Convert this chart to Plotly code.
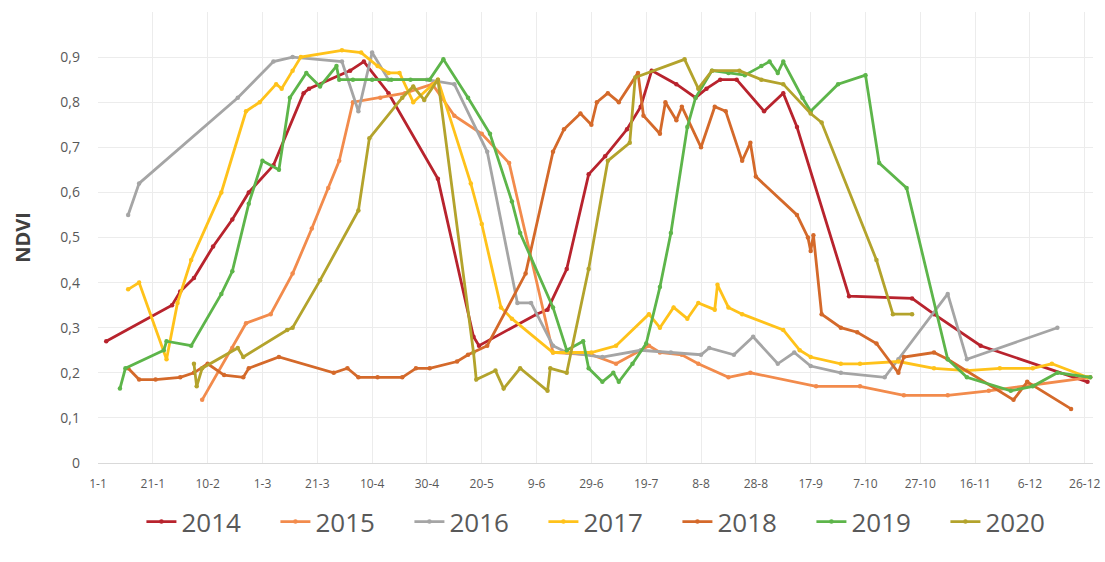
import plotly.graph_objects as go

# Day offsets from 1 January (leap-year calendar) and NDVI readings per year
days_2014 = [3, 27, 30, 35, 42, 49, 55, 64, 75, 77, 92, 97, 106, 124, 137, 139, 160, 164, 171, 179,
             185, 193, 198, 202, 211, 218, 222, 227, 233, 243, 250, 255, 274, 297, 305, 322, 361]
ndvi_2014 = [0.27, 0.35, 0.38, 0.41, 0.48, 0.54, 0.60, 0.66, 0.82, 0.83, 0.87, 0.89, 0.82, 0.63, 0.28,
             0.26, 0.33, 0.34, 0.43, 0.64, 0.68, 0.74, 0.79, 0.87, 0.84, 0.81, 0.83, 0.85, 0.85, 0.78,
             0.82, 0.745, 0.37, 0.365, 0.33, 0.26, 0.18]

days_2015 = [38, 49, 54, 63, 71, 78, 84, 88, 93, 103, 112, 122, 130, 140, 150, 166, 180, 189, 201,
             205, 213, 219, 230, 238, 262, 278, 294, 310, 325, 362]
ndvi_2015 = [0.14, 0.255, 0.31, 0.33, 0.42, 0.52, 0.61, 0.67, 0.80, 0.81, 0.82, 0.84, 0.77, 0.73,
             0.665, 0.245, 0.24, 0.22, 0.26, 0.245, 0.24, 0.22, 0.19, 0.20, 0.17, 0.17, 0.15, 0.15,
             0.16, 0.19]

days_2016 = [11, 15, 51, 64, 71, 89, 95, 100, 106, 120, 130, 142, 153, 158, 166, 171, 184, 198, 209,
             220, 223, 232, 239, 248, 254, 260, 271, 287, 292, 310, 317, 350]
ndvi_2016 = [0.55, 0.62, 0.81, 0.89, 0.90, 0.89, 0.78, 0.91, 0.85, 0.85, 0.84, 0.69, 0.355, 0.355,
             0.26, 0.245, 0.235, 0.25, 0.245, 0.24, 0.255, 0.24, 0.28, 0.22, 0.245, 0.215, 0.20,
             0.19, 0.23, 0.375, 0.23, 0.30]

days_2017 = [11, 15, 25, 29, 34, 45, 54, 59, 65, 67, 71, 74, 89, 96, 102, 106, 110, 115, 124, 136,
             140, 147, 151, 166, 180, 189, 201, 205, 210, 215, 219, 225, 226, 230, 235, 250, 256,
             260, 271, 278, 292, 305, 317, 329, 341, 348, 361]
ndvi_2017 = [0.385, 0.40, 0.23, 0.355, 0.45, 0.60, 0.78, 0.80, 0.84, 0.83, 0.87, 0.90, 0.915, 0.91,
             0.88, 0.865, 0.865, 0.80, 0.85, 0.62, 0.53, 0.345, 0.32, 0.245, 0.245, 0.26, 0.33,
             0.30, 0.345, 0.32, 0.355, 0.34, 0.395, 0.345, 0.33, 0.295, 0.25, 0.235, 0.22, 0.22,
             0.225, 0.21, 0.205, 0.21, 0.21, 0.22, 0.19]

days_2018 = [11, 15, 21, 30, 35, 40, 46, 53, 55, 66, 86, 91, 95, 102, 111, 116, 121, 131, 135, 142,
             156, 166, 170, 176, 180, 182, 186, 190, 197, 199, 205, 207, 211, 213, 220, 225, 229,
             235, 238, 240, 255, 259, 260, 261, 264, 271, 277, 284, 292, 294, 305, 310, 334, 339,
             355]
ndvi_2018 = [0.21, 0.185, 0.185, 0.19, 0.20, 0.22, 0.195, 0.19, 0.21, 0.235, 0.20, 0.21, 0.19, 0.19,
             0.19, 0.21, 0.21, 0.225, 0.24, 0.26, 0.42, 0.69, 0.74, 0.775, 0.75, 0.80, 0.82, 0.80,
             0.865, 0.77, 0.73, 0.80, 0.76, 0.79, 0.70, 0.79, 0.78, 0.67, 0.71, 0.635, 0.55, 0.50,
             0.47, 0.505, 0.33, 0.30, 0.29, 0.265, 0.20, 0.235, 0.245, 0.23, 0.14, 0.18, 0.12]

days_2019 = [8, 10, 24, 25, 34, 45, 49, 55, 60, 66, 70, 76, 81, 87, 88, 93, 100, 107, 114, 121, 126,
             135, 143, 151, 154, 166, 171, 177, 179, 184, 188, 190, 195, 200, 205, 209, 215, 218,
             224, 230, 236, 242, 245, 248, 250, 257, 260, 270, 280, 285, 295, 310, 317, 333, 341,
             350, 362]
ndvi_2019 = [0.165, 0.21, 0.25, 0.27, 0.26, 0.375, 0.425, 0.575, 0.67, 0.65, 0.81, 0.865, 0.835,
             0.88, 0.85, 0.85, 0.85, 0.85, 0.85, 0.85, 0.895, 0.81, 0.73, 0.58, 0.51, 0.345, 0.25,
             0.27, 0.21, 0.18, 0.20, 0.18, 0.22, 0.265, 0.39, 0.51, 0.745, 0.81, 0.87, 0.865, 0.86,
             0.88, 0.89, 0.865, 0.89, 0.81, 0.78, 0.84, 0.86, 0.665, 0.61, 0.23, 0.19, 0.16, 0.17,
             0.20, 0.19]

days_2020 = [35, 36, 38, 51, 53, 69, 71, 81, 95, 99, 111, 115, 119, 124, 137, 138, 145, 148, 154,
             164, 165, 171, 179, 186, 194, 196, 214, 219, 224, 234, 242, 250, 260, 264, 284, 290,
             297]
ndvi_2020 = [0.22, 0.17, 0.21, 0.255, 0.235, 0.295, 0.30, 0.405, 0.56, 0.72, 0.81, 0.835, 0.805,
             0.85, 0.245, 0.185, 0.205, 0.165, 0.21, 0.16, 0.21, 0.20, 0.43, 0.67, 0.71, 0.855,
             0.895, 0.83, 0.87, 0.87, 0.85, 0.84, 0.775, 0.755, 0.45, 0.33, 0.33]

years = ["2014", "2015", "2016", "2017", "2018", "2019", "2020"]
series_days = [days_2014, days_2015, days_2016, days_2017, days_2018, days_2019, days_2020]
series_ndvi = [ndvi_2014, ndvi_2015, ndvi_2016, ndvi_2017, ndvi_2018, ndvi_2019, ndvi_2020]
colors = ["#b8232d", "#f28b4c", "#a5a5a5", "#ffc21a", "#d4692a", "#5db54a", "#b3a32c"]

tick_days = [0, 20, 40, 60, 80, 100, 120, 140, 160, 180, 200, 220, 240, 260, 280, 300, 320, 340, 360]
tick_labels = ["1-1", "21-1", "10-2", "1-3", "21-3", "10-4", "30-4", "20-5", "9-6", "29-6",
               "19-7", "8-8", "28-8", "17-9", "7-10", "27-10", "16-11", "6-12", "26-12"]
y_ticks = [0, 0.1, 0.2, 0.3, 0.4, 0.5, 0.6, 0.7, 0.8, 0.9]
y_labels = ["0", "0,1", "0,2", "0,3", "0,4", "0,5", "0,6", "0,7", "0,8", "0,9"]

fig = go.Figure()
for name, xs, ys, col in zip(years, series_days, series_ndvi, colors):
    fig.add_trace(go.Scatter(
        x=xs, y=ys, name=name, mode="lines+markers",
        line=dict(color=col, width=2.8),
        marker=dict(color=col, size=4.5),
    ))

fig.update_layout(
    width=1105, height=562,
    margin=dict(l=98, r=12, t=12, b=99, autoexpand=False),
    paper_bgcolor="white", plot_bgcolor="white",
    font=dict(family="Open Sans", color="#595959"),
    showlegend=True,
    legend=dict(
        orientation="h", x=0.515, xanchor="center", y=-0.13, yanchor="middle",
        font=dict(size=26, color="#595959"),
        entrywidth=89, entrywidthmode="pixels",
    ),
    xaxis=dict(
        range=[0, 363], tickvals=tick_days, ticktext=tick_labels,
        tickfont=dict(size=12, color="#595959"),
        showgrid=True, gridcolor="#ececec", gridwidth=1,
        showline=True, linecolor="#d9d9d9", linewidth=1,
        zeroline=False, ticks="", ticklabelstandoff=10,
    ),
    yaxis=dict(
        range=[0, 1.0], tickvals=y_ticks, ticktext=y_labels,
        tickfont=dict(size=14, color="#595959"),
        showgrid=True, gridcolor="#ececec", gridwidth=1,
        zeroline=False, ticks="", ticklabelstandoff=17,
        title=dict(text="<b>NDVI</b>", font=dict(size=20, color="#404040"), standoff=24),
    ),
)

fig.write_html("out.html")
